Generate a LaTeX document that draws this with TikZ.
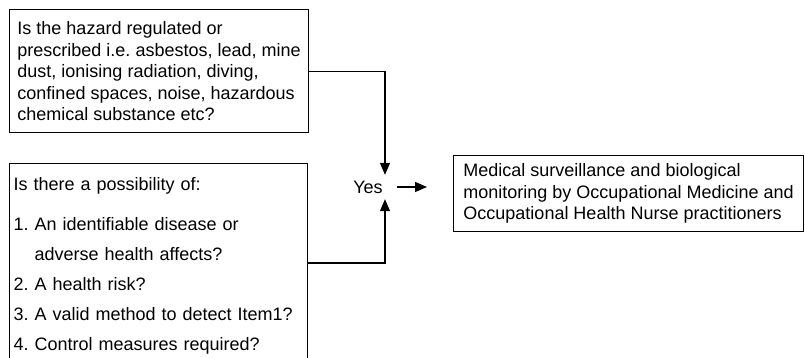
\documentclass[tikz,border=0pt]{standalone}
\usepackage{fontspec}
\setmainfont{Liberation Sans}
\usetikzlibrary{arrows.meta}
\tikzset{
  qbox/.style={draw, line width=1.1pt, align=left, inner xsep=4pt, inner ysep=12pt,
    font=\fontsize{18}{21.5}\selectfont},
  arr/.style={line width=1.1pt, -{Triangle[length=12pt,width=10pt]}}
}
\begin{document}
\frenchspacing
\begin{tikzpicture}[x=1pt,y=1pt]
        \clip (0,0) rectangle (805,358);
        \fill[white] (0,0) rectangle (805,358);
        \node[qbox, anchor=north west, minimum width=299pt, minimum height=119pt] (top) at (9,349)
            {Is the hazard regulated or\\ prescribed i.e. asbestos, lead, mine\\ dust, ionising radiation, diving,\\ confined spaces, noise, hazardous\\ chemical substance etc?};
        \node[qbox, anchor=north west, minimum width=298pt, text width=290pt, inner ysep=14pt] (low) at (9,195)
            {Is there a possibility of:\\[18.5pt] 1.\ An identifiable disease or\\[8.5pt] \phantom{1.\ }adverse health affects?\\[8.5pt] 2.\ A health risk?\\[8.5pt] 3.\ A valid method to detect Item1?\\[8.5pt] 4.\ Control measures required?};
        \node[qbox, anchor=north west, minimum width=350pt, minimum height=72pt, inner ysep=8pt] (med) at (453,203)
            {Medical surveillance and biological\\ monitoring by Occupational Medicine and\\ Occupational Health Nurse practitioners};
        \node[font=\fontsize{18}{21.5}\selectfont, minimum width=58pt, minimum height=24pt, inner sep=0pt] (yes) at (368,171) {Yes};
        \draw[arr] (top.east) -| ([xshift=17pt]yes.north);
        \draw[arr] ([yshift=-100pt]low.north east) -| ([xshift=17pt]yes.south);
        \draw[arr, shorten >=26pt] (yes.east) -- (yes.east -| med.west);
\end{tikzpicture}
\end{document}
